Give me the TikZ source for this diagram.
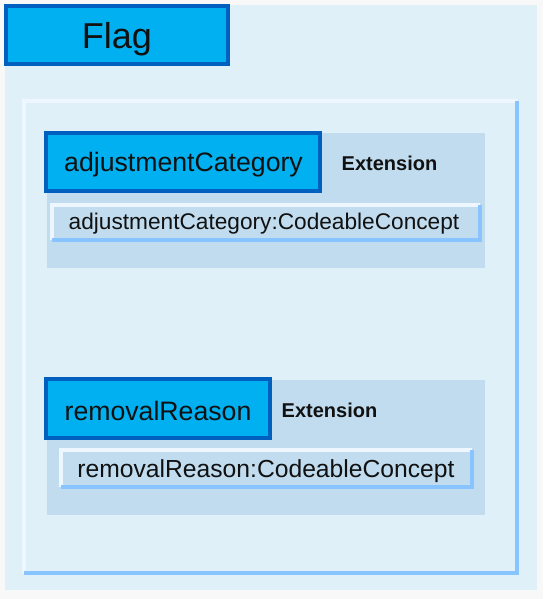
\documentclass[tikz,border=0pt]{standalone}
\usepackage{fontspec}
\setmainfont{Liberation Sans}
\definecolor{pagebg}{HTML}{F8F8F8}
\definecolor{panelbg}{HTML}{DFF0F8}
\definecolor{groupbg}{HTML}{C0DCEE}
\definecolor{boxfill}{HTML}{00B0F0}
\definecolor{boxline}{HTML}{0060C0}
\definecolor{edgelight}{HTML}{EEF7FF}
\definecolor{edgedark}{HTML}{88C4FF}
\definecolor{txt}{HTML}{111111}
\tikzset{
  titlebox/.style={fill=boxfill, draw=boxline, line width=2.8pt},
  lbl/.style={inner sep=0pt, text=txt},
}
\begin{document}
\begin{tikzpicture}[x=0.75pt, y=-0.75pt]
    % Page and outer panel
    \fill[pagebg] (0,0) rectangle (543,599);
    \fill[panelbg] (5,5) rectangle (537,590);
    % Inner frame: light top-left edge, darker bottom-right edge
    \draw[edgelight, line width=2.6pt] (24,573) -- (24,101) -- (517,101);
    \draw[edgedark, line width=2.6pt] (517,101) -- (517,573) -- (24,573);
    % Flag header
    \draw[titlebox] (6,6) rectangle (228,64);
    \node[lbl, font=\fontsize{27}{30}\selectfont] (flag) at (117,39) {Flag};
    % First extension group
    \fill[groupbg] (47,133) rectangle (485,268);
    \draw[titlebox] (46,133) rectangle (320,191);
    \node[lbl, font=\fontsize{20}{24}\selectfont] (adjcat) at (183.5,165) {adjustmentCategory};
    \node[lbl, font=\fontsize{15}{18}\selectfont\bfseries] (adjext) at (389.5,163) {Extension};
    \draw[edgelight, line width=2.6pt] (52,240) -- (52,205) -- (480,205);
    \draw[edgedark, line width=2.6pt] (480,205) -- (480,240) -- (52,240);
    \node[lbl, font=\fontsize{17}{20}\selectfont] (adjfield) at (264,224) {adjustmentCategory:CodeableConcept};
    % Second extension group
    \fill[groupbg] (47,380) rectangle (485,515);
    \draw[titlebox] (46,379) rectangle (270,438);
    \node[lbl, font=\fontsize{20}{24}\selectfont] (remreason) at (158,411) {removalReason};
    \node[lbl, font=\fontsize{15}{18}\selectfont\bfseries] (remext) at (329.5,410) {Extension};
    \draw[edgelight, line width=2.6pt] (61,487) -- (61,450) -- (472,450);
    \draw[edgedark, line width=2.6pt] (472,450) -- (472,487) -- (61,487);
    \node[lbl, font=\fontsize{18.5}{22}\selectfont] (remfield) at (266,471) {removalReason:CodeableConcept};
\end{tikzpicture}
\end{document}
